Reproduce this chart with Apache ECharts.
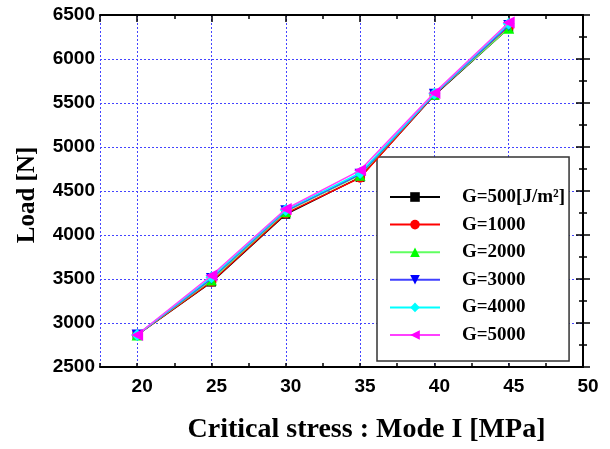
<!DOCTYPE html>
<html>
<head>
<meta charset="utf-8">
<script src="https://cdn.jsdelivr.net/npm/echarts@6/dist/echarts.min.js"></script>
<style>html,body{margin:0;padding:0;background:#fff}#c{width:610px;height:449px}</style>
</head>
<body>
<div id="c"></div>
<script>
var xValues = [20, 25, 30, 35, 40, 45];
var seriesNames = ['G=500[J/m²]', 'G=1000', 'G=2000', 'G=3000', 'G=4000', 'G=5000'];
var g500  = [2865, 3465, 4235, 4655, 5590, 6350];
var g1000 = [2865, 3470, 4245, 4650, 5595, 6360];
var g2000 = [2865, 3490, 4265, 4680, 5600, 6350];
var g3000 = [2865, 3505, 4275, 4690, 5600, 6380];
var g4000 = [2865, 3520, 4285, 4705, 5605, 6400];
var g5000 = [2865, 3540, 4295, 4735, 5615, 6415];
var yTickValues = [2500, 3000, 3500, 4000, 4500, 5000, 5500, 6000, 6500];
var xTickLabels = [20, 25, 30, 35, 40, 45, 50];

var allValues = [g500, g1000, g2000, g3000, g4000, g5000];
var colors = ['#000000', '#ff0000', '#00ff00', '#0000ff', '#00ffff', '#ff00ff'];
var lineColors = ['#000000', '#ff0000', '#60ff60', '#4040ff', '#00ffff', '#ff40ff'];
var symbols = ['rect', 'circle', 'triangle', 'triangle', 'diamond', 'triangle'];
var rotates = [0, 0, 0, 180, 0, 90];
var sizes = [9, 10, 11, 11, 12, 12];

var serif = '"Liberation Serif", "Times New Roman", serif';
var sans = '"Liberation Sans", Arial, sans-serif';

var series = allValues.map(function (vals, i) {
  return {
    name: seriesNames[i],
    type: 'line',
    xAxisIndex: 0,
    yAxisIndex: 0,
    data: vals.map(function (v, j) { return [xValues[j], v]; }),
    symbol: symbols[i],
    symbolRotate: rotates[i],
    symbolSize: sizes[i],
    showAllSymbol: true,
    lineStyle: { color: lineColors[i], width: 1.5 },
    itemStyle: { color: colors[i] },
    emphasis: { disabled: true },
    animation: false,
    z: 3 + i
  };
});

var chart = echarts.init(document.getElementById('c'), null, { renderer: 'canvas' });
chart.setOption({
  animation: false,
  backgroundColor: '#ffffff',
  grid: { left: 100, right: 27, top: 15, bottom: 79 },
  legend: {
    orient: 'vertical',
    left: 377,
    top: 157,
    width: 190,
    padding: [30, 4, 16, 12],
    itemWidth: 50,
    itemHeight: 12,
    itemGap: 7.6,
    backgroundColor: '#ffffff',
    borderColor: '#333333',
    borderWidth: 1.5,
    selectedMode: false,
    textStyle: { fontFamily: serif, fontWeight: 'bold', fontSize: 19, color: '#000', lineHeight: 20, padding: [0, 0, 0, 17] },
    data: seriesNames
  },
  xAxis: [
    {
      type: 'value', position: 'bottom', min: 17.5, max: 50, interval: 2.5,
      name: 'Critical stress : Mode I [MPa]', nameLocation: 'middle', nameGap: 49,
      nameTextStyle: { fontFamily: serif, fontWeight: 'bold', fontSize: 28, color: '#000', padding: [0, 0, 0, 50] },
      axisLine: { show: true, lineStyle: { color: '#000', width: 2 } },
      axisTick: { show: true, inside: true, length: 4, lineStyle: { color: '#000', width: 1.5 } },
      axisLabel: {
        show: true, margin: 10, fontFamily: sans, fontWeight: 'bold', fontSize: 19, color: '#000',
        padding: [0, 0, 0, 10],
        formatter: function (v) { return xTickLabels.indexOf(v) >= 0 ? String(v) : ''; }
      },
      splitLine: { show: false }
    },
    {
      type: 'value', position: 'top', inverse: true, min: 0, max: 32.5, interval: 5,
      axisLine: { show: true, lineStyle: { color: '#000', width: 2 } },
      axisTick: { show: true, inside: true, length: 7, lineStyle: { color: '#000', width: 1.5 } },
      minorTick: { show: true, splitNumber: 2, length: 4, lineStyle: { color: '#000', width: 1.5 } },
      axisLabel: { show: false },
      splitLine: { show: true, lineStyle: { color: '#4444ff', type: [2, 2], width: 1 } }
    }
  ],
  yAxis: [
    {
      type: 'value', position: 'left', min: 2500, max: 6500, interval: 500,
      name: 'Load [N]', nameLocation: 'middle', nameGap: 60, nameRotate: 90,
      nameTextStyle: { fontFamily: serif, fontWeight: 'bold', fontSize: 25, color: '#000', padding: [0, 8, 0, 0] },
      axisLine: { show: true, lineStyle: { color: '#000', width: 2 } },
      axisTick: { show: true, inside: true, length: 7, lineStyle: { color: '#000', width: 1.5 } },
      minorTick: { show: true, splitNumber: 2, length: 4, lineStyle: { color: '#000', width: 1.5 } },
      axisLabel: {
        show: true, margin: 5, fontFamily: sans, fontWeight: 'bold', fontSize: 19, color: '#000',
        formatter: function (v) { return yTickValues.indexOf(v) >= 0 ? String(v) : ''; }
      },
      splitLine: { show: true, lineStyle: { color: '#4444ff', type: [2, 2], width: 1 } }
    },
    {
      type: 'value', position: 'right', min: 2500, max: 6500, interval: 500,
      axisLine: { show: true, lineStyle: { color: '#000', width: 2 } },
      axisTick: { show: true, inside: true, length: 7, lineStyle: { color: '#000', width: 1.5 } },
      minorTick: { show: true, splitNumber: 2, length: 4, lineStyle: { color: '#000', width: 1.5 } },
      axisLabel: { show: false },
      splitLine: { show: false }
    }
  ],
  series: series
});
</script>
</body>
</html>
